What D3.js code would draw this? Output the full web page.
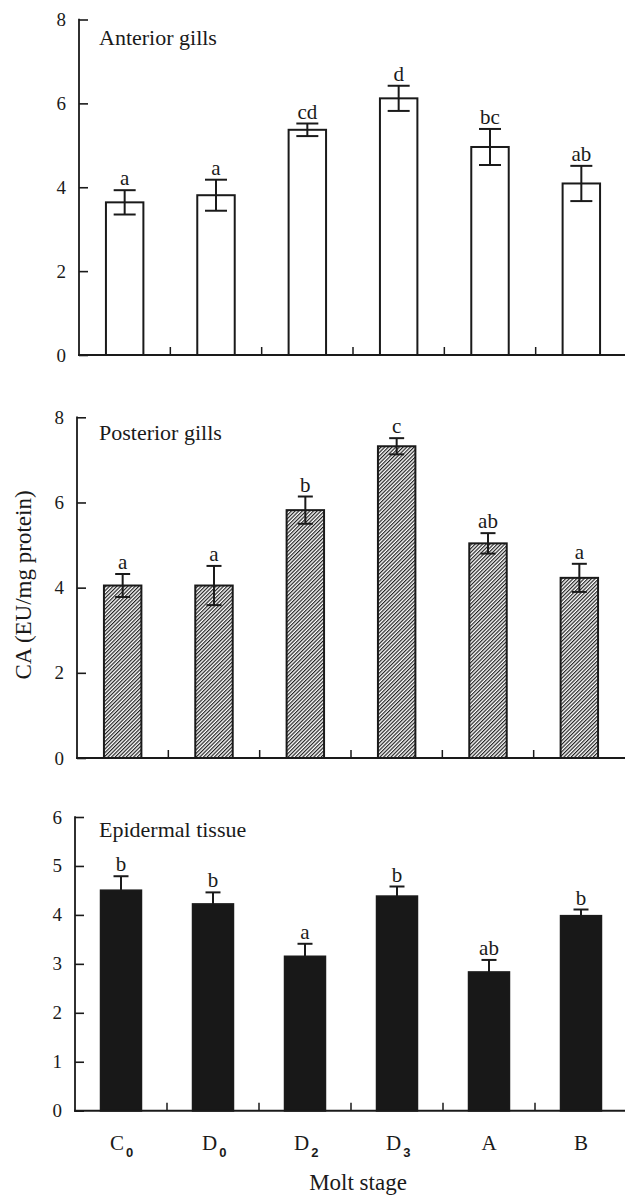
<!DOCTYPE html>
<html>
<head>
<meta charset="utf-8">
<script src="https://cdn.jsdelivr.net/npm/d3@7"></script>
<style>
  body { margin: 0; background: #fff; }
  svg { display: block; }
</style>
</head>
<body>
<svg id="chart" width="625" height="1196"></svg>
<script>
// molt stages (letter + subscript)
var stageLetters = ["C", "D", "D", "D", "A", "B"];
var stageSubs = ["0", "0", "2", "3", "", ""];
var stages = ["C0", "D0", "D2", "D3", "A", "B"];

// anterior gills
var anteriorMean = [3.64, 3.81, 5.37, 6.12, 4.96, 4.09];
var anteriorErr = [0.29, 0.37, 0.15, 0.30, 0.43, 0.42];
var anteriorSig = ["a", "a", "cd", "d", "bc", "ab"];

// posterior gills
var posteriorMean = [4.05, 4.05, 5.82, 7.32, 5.04, 4.23];
var posteriorErr = [0.27, 0.46, 0.32, 0.19, 0.24, 0.33];
var posteriorSig = ["a", "a", "b", "c", "ab", "a"];

// epidermal tissue
var epidermalMean = [4.50, 4.22, 3.15, 4.38, 2.83, 3.98];
var epidermalErr = [0.29, 0.24, 0.26, 0.20, 0.25, 0.13];
var epidermalSig = ["b", "b", "a", "b", "ab", "b"];

var serif = "'Liberation Serif', 'Times New Roman', serif";
var ink = "#1a1a1a";

var svg = d3.select("#chart");

var defs = svg.append("defs");
var pat = defs.append("pattern")
  .attr("id", "hatch")
  .attr("patternUnits", "userSpaceOnUse")
  .attr("width", 2.6)
  .attr("height", 2.6)
  .attr("patternTransform", "rotate(45)");
pat.append("rect").attr("width", 2.6).attr("height", 2.6).attr("fill", "#fff");
pat.append("line")
  .attr("x1", 0.6).attr("y1", 0).attr("x2", 0.6).attr("y2", 2.6)
  .attr("stroke", "#222").attr("stroke-width", 1.2);

var panels = [
  { name: "Anterior gills", mean: anteriorMean, err: anteriorErr, sig: anteriorSig,
    left: 79, right: 627, top: 19.5, bottom: 355, max: 8, ticks: [0, 2, 4, 6, 8],
    fill: "#fff", cap: 22, pad: 0.59, both: true },
  { name: "Posterior gills", mean: posteriorMean, err: posteriorErr, sig: posteriorSig,
    left: 77, right: 625, top: 417.3, bottom: 758, max: 8, ticks: [0, 2, 4, 6, 8],
    fill: "url(#hatch)", cap: 15, pad: 0.59, both: true },
  { name: "Epidermal tissue", mean: epidermalMean, err: epidermalErr, sig: epidermalSig,
    left: 75, right: 627, top: 817, bottom: 1110.7, max: 6, ticks: [0, 1, 2, 3, 4, 5, 6],
    fill: "#181818", cap: 15, pad: 0.56, both: false }
];

panels.forEach(function(p, pi) {
  var x = d3.scaleBand()
    .domain(stages)
    .range([p.left, p.right])
    .paddingInner(p.pad)
    .paddingOuter(p.pad / 2);

  var y = d3.scaleLinear().domain([0, p.max]).range([p.bottom, p.top]);

  var g = svg.append("g");

  // y axis: inward ticks
  var yAxis = d3.axisRight(y).tickValues(p.ticks).tickSize(9).tickFormat("");
  var ya = g.append("g")
    .attr("transform", "translate(" + p.left + ",0)")
    .call(yAxis);
  ya.select(".domain").remove();
  ya.selectAll(".tick line").attr("stroke", ink).attr("stroke-width", 1.6);
  g.append("line")
    .attr("x1", p.left).attr("x2", p.left)
    .attr("y1", y(p.max) - 0.8).attr("y2", y(0) + 1)
    .attr("stroke", ink).attr("stroke-width", 1.8);

  g.selectAll(".ylab")
    .data(p.ticks)
    .enter().append("text")
    .attr("x", p.left - 13)
    .attr("y", function(d) { return y(d) + 6.5; })
    .attr("text-anchor", "end")
    .attr("font-family", serif)
    .attr("font-size", 19)
    .attr("fill", ink)
    .text(function(d) { return d; });

  // bars
  g.selectAll(".bar")
    .data(p.mean)
    .enter().append("rect")
    .attr("x", function(d, i) { return x(stages[i]); })
    .attr("y", function(d) { return y(d); })
    .attr("width", x.bandwidth())
    .attr("height", function(d) { return y(0) - y(d); })
    .attr("fill", p.fill)
    .attr("stroke", ink)
    .attr("stroke-width", 2);

  // error bars
  var eb = g.selectAll(".err")
    .data(p.mean)
    .enter().append("g")
    .attr("transform", function(d, i) {
      return "translate(" + (x(stages[i]) + x.bandwidth() / 2) + ",0)";
    });
  eb.append("line")
    .attr("y1", function(d, i) { return y(d + p.err[i]); })
    .attr("y2", function(d, i) { return p.both ? y(d - p.err[i]) : y(d); })
    .attr("stroke", ink).attr("stroke-width", 2);
  eb.append("line")
    .attr("x1", -p.cap / 2).attr("x2", p.cap / 2)
    .attr("y1", function(d, i) { return y(d + p.err[i]); })
    .attr("y2", function(d, i) { return y(d + p.err[i]); })
    .attr("stroke", ink).attr("stroke-width", 2);
  if (p.both) {
    eb.append("line")
      .attr("x1", -p.cap / 2).attr("x2", p.cap / 2)
      .attr("y1", function(d, i) { return y(d - p.err[i]); })
      .attr("y2", function(d, i) { return y(d - p.err[i]); })
      .attr("stroke", ink).attr("stroke-width", 2);
  }
  eb.append("text")
    .attr("y", function(d, i) { return y(d + p.err[i]) - 5; })
    .attr("text-anchor", "middle")
    .attr("font-family", serif)
    .attr("font-size", 21)
    .attr("fill", ink)
    .text(function(d, i) { return p.sig[i]; });

  // x axis line + ticks between categories
  g.append("line")
    .attr("x1", p.left - 1).attr("x2", 625)
    .attr("y1", y(0)).attr("y2", y(0))
    .attr("stroke", ink).attr("stroke-width", 2);
  var gap = x.step() * x.paddingInner() / 2;
  g.selectAll(".xt")
    .data(stages.slice(1))
    .enter().append("line")
    .attr("x1", function(d) { return x(d) - gap; })
    .attr("x2", function(d) { return x(d) - gap; })
    .attr("y1", y(0)).attr("y2", y(0) - 8)
    .attr("stroke", ink).attr("stroke-width", 1.5);

  // panel label
  g.append("text")
    .attr("x", 99)
    .attr("y", [45, 440, 837.3][pi])
    .attr("font-family", serif)
    .attr("font-size", 22)
    .attr("fill", ink)
    .text(p.name);

  // category labels under last panel
  if (pi === panels.length - 1) {
    var lab = g.selectAll(".xl")
      .data(stages)
      .enter().append("text")
      .attr("x", function(d, i) {
        return x(d) + x.bandwidth() / 2 + (stageSubs[i] ? -5 : 0);
      })
      .attr("y", 1150)
      .attr("text-anchor", function(d, i) { return stageSubs[i] ? "start" : "middle"; })
      .attr("font-family", serif)
      .attr("font-size", 21)
      .attr("fill", ink);
    lab.each(function(d, i) {
      var t = d3.select(this);
      if (stageSubs[i]) {
        // shift start so the letter sits centred
        t.attr("x", x(d) + x.bandwidth() / 2 - 11);
        t.append("tspan").text(stageLetters[i]);
        t.append("tspan")
          .attr("dx", 2).attr("dy", 7)
          .attr("font-family", "'Liberation Sans', Arial, sans-serif")
          .attr("font-weight", "bold")
          .attr("font-size", 13)
          .text(stageSubs[i]);
      } else {
        t.text(stageLetters[i]);
      }
    });
  }
});

// axis titles
svg.append("text")
  .attr("x", 358)
  .attr("y", 1190)
  .attr("text-anchor", "middle")
  .attr("font-family", serif)
  .attr("font-size", 23)
  .attr("fill", ink)
  .text("Molt stage");

svg.append("text")
  .attr("transform", "translate(31,585) rotate(-90)")
  .attr("text-anchor", "middle")
  .attr("font-family", serif)
  .attr("font-size", 23)
  .attr("fill", ink)
  .text("CA (EU/mg protein)");
</script>
</body>
</html>
